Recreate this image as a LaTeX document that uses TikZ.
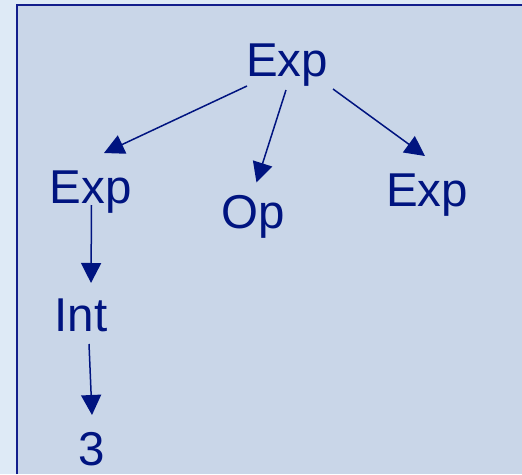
\documentclass[tikz,border=0pt]{standalone}
\usepackage{fontspec}
\setmainfont{Liberation Sans}
\usetikzlibrary{arrows.meta}
\definecolor{pagebg}{RGB}{222,234,246}
\definecolor{panelbg}{RGB}{201,214,232}
\definecolor{navy}{RGB}{0,20,128}
\definecolor{frame}{RGB}{18,30,140}
\begin{document}
\begin{tikzpicture}[x=1pt,y=-1pt,
  lbl/.style={inner sep=0pt,anchor=base,text=navy,font=\fontsize{47.5}{57}\selectfont},
  arr/.style={draw=navy,line width=1.5pt,-{Triangle[length=20pt,width=20pt]}}]
  % page and panel
  \fill[pagebg] (0,0) rectangle (522,474);
  \useasboundingbox (0,0) rectangle (522,474);
  \fill[panelbg] (17,5) rectangle (522,474);
  \draw[frame,line width=2pt] (17,474) -- (17,5) -- (522,5);
  % tree nodes
  \node[lbl] (root)  at (287,76)    {Exp};
  \node[lbl] (lexp)  at (90.5,203)  {Exp};
  \node[lbl] (op)    at (253.5,228) {Op};
  \node[lbl] (rexp)  at (427,206)   {Exp};
  \node[lbl] (int)   at (81,331)    {Int};
  \node[lbl] (three) at (91.5,465)  {3};
  % edges
  \draw[arr] ([shift={(-40,10)}]root.base) -- ([shift={(13.5,-50)}]lexp.base);
  \draw[arr] ([shift={(-1,14)}]root.base) -- ([shift={(3,-45.5)}]op.base);
  \draw[arr] ([shift={(46,13)}]root.base) -- ([shift={(-2,-50)}]rexp.base);
  \draw[arr] ([shift={(1,2)}]lexp.base) -- ([shift={(10,-48)}]int.base);
  \draw[arr] ([shift={(8,13)}]int.base) -- ([shift={(0.5,-50)}]three.base);
\end{tikzpicture}
\end{document}
